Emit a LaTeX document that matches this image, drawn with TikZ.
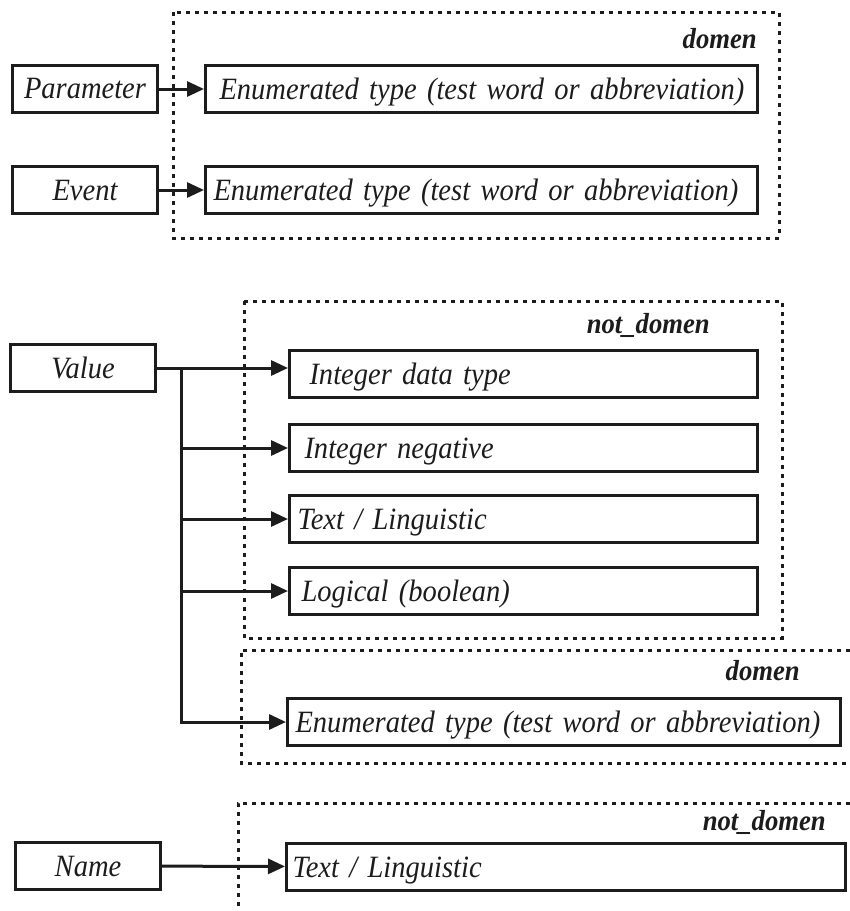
\documentclass[tikz,border=0pt]{standalone}
\usepackage{fontspec}
\setmainfont[FakeStretch=0.92]{Liberation Serif}
\usepackage{tikz}
\usetikzlibrary{arrows.meta,positioning}
\definecolor{ink}{HTML}{1C1C1C}
\newcommand{\boxfont}{\fontsize{31}{35}\selectfont\itshape}
\tikzset{
  src/.style={draw=ink, line width=3pt, minimum width=145pt, minimum height=47pt,
    inner sep=0pt, text=ink, font=\boxfont},
  field/.style={draw=ink, line width=3pt, minimum height=47pt, inner sep=0pt,
    anchor=west, align=left, text height=23pt, text depth=2pt, text=ink, font=\boxfont},
  zone/.style={draw=ink, line width=3pt, dash pattern=on 4pt off 5pt},
  tag/.style={text=ink, inner sep=0pt, anchor=base east,
    font=\fontsize{29}{33}\selectfont\bfseries\itshape},
  link/.style={draw=ink, line width=3pt, -{Triangle[length=17pt,width=15pt]}},
}

\begin{document}
\begin{tikzpicture}[x=1pt, y=-1pt]
  \useasboundingbox (0,0) rectangle (850,911);
  % dashed groups
  \draw[zone] (173,12) rectangle (779,238);
  \draw[zone] (244,301) rectangle (782,638);
  \draw[zone] (850,650) -| (241,763) -- (850,763);
  \draw[zone] (850,803) -| (238,911);
  \node[tag] (domA) at (757,48) {domen};
  \node[tag] (ndomA) at (710,333) {not\_domen};
  \node[tag] (domB) at (800,680) {domen};
  \node[tag] (ndomB) at (826,830) {not\_domen};

  % sources
  \node[src] (param) at (85,89) {Parameter};
  \node[src] (event) at (85,190) {Event};
  \node[src] (value) at (83,368) {Value};
  \node[src] (name) at (88,866) {Name};

  % targets
  \node[field, text width=552pt] (enumP) at (204,89) {\hspace*{14pt}Enumerated type (test word or abbreviation)};
  \node[field, text width=552pt] (enumE) at (204,190) {\hspace*{8pt}Enumerated type (test word or abbreviation)};
  \node[field, text width=468pt] (intdata) at (288,374) {\hspace*{20pt}Integer data type};
  \node[field, text width=468pt] (intneg) at (288,448) {\hspace*{15pt}Integer negative};
  \node[field, text width=468pt] (textA) at (288,519) {\hspace*{8pt}Text / Linguistic};
  \node[field, text width=468pt] (logic) at (288,591) {\hspace*{12pt}Logical (boolean)};
  \node[field, text width=553pt] (enumV) at (286,722) {\hspace*{8pt}Enumerated type (test word or abbreviation)};
  \node[field, text width=559pt] (textN) at (285,867) {\hspace*{6pt}Text / Linguistic};

  % connectors
  \draw[link] (param) -- (enumP);
  \draw[link] (event) -- (enumE);
  \draw[link] (value.east) -- (value.east -| intdata.west);
  \coordinate[right=24pt of value.east] (fork);
  \foreach \dst in {intneg,textA,logic,enumV}
    \draw[link] (fork) |- (\dst.west);
  \draw[link] (name) -- (textN);
\end{tikzpicture}
\end{document}
